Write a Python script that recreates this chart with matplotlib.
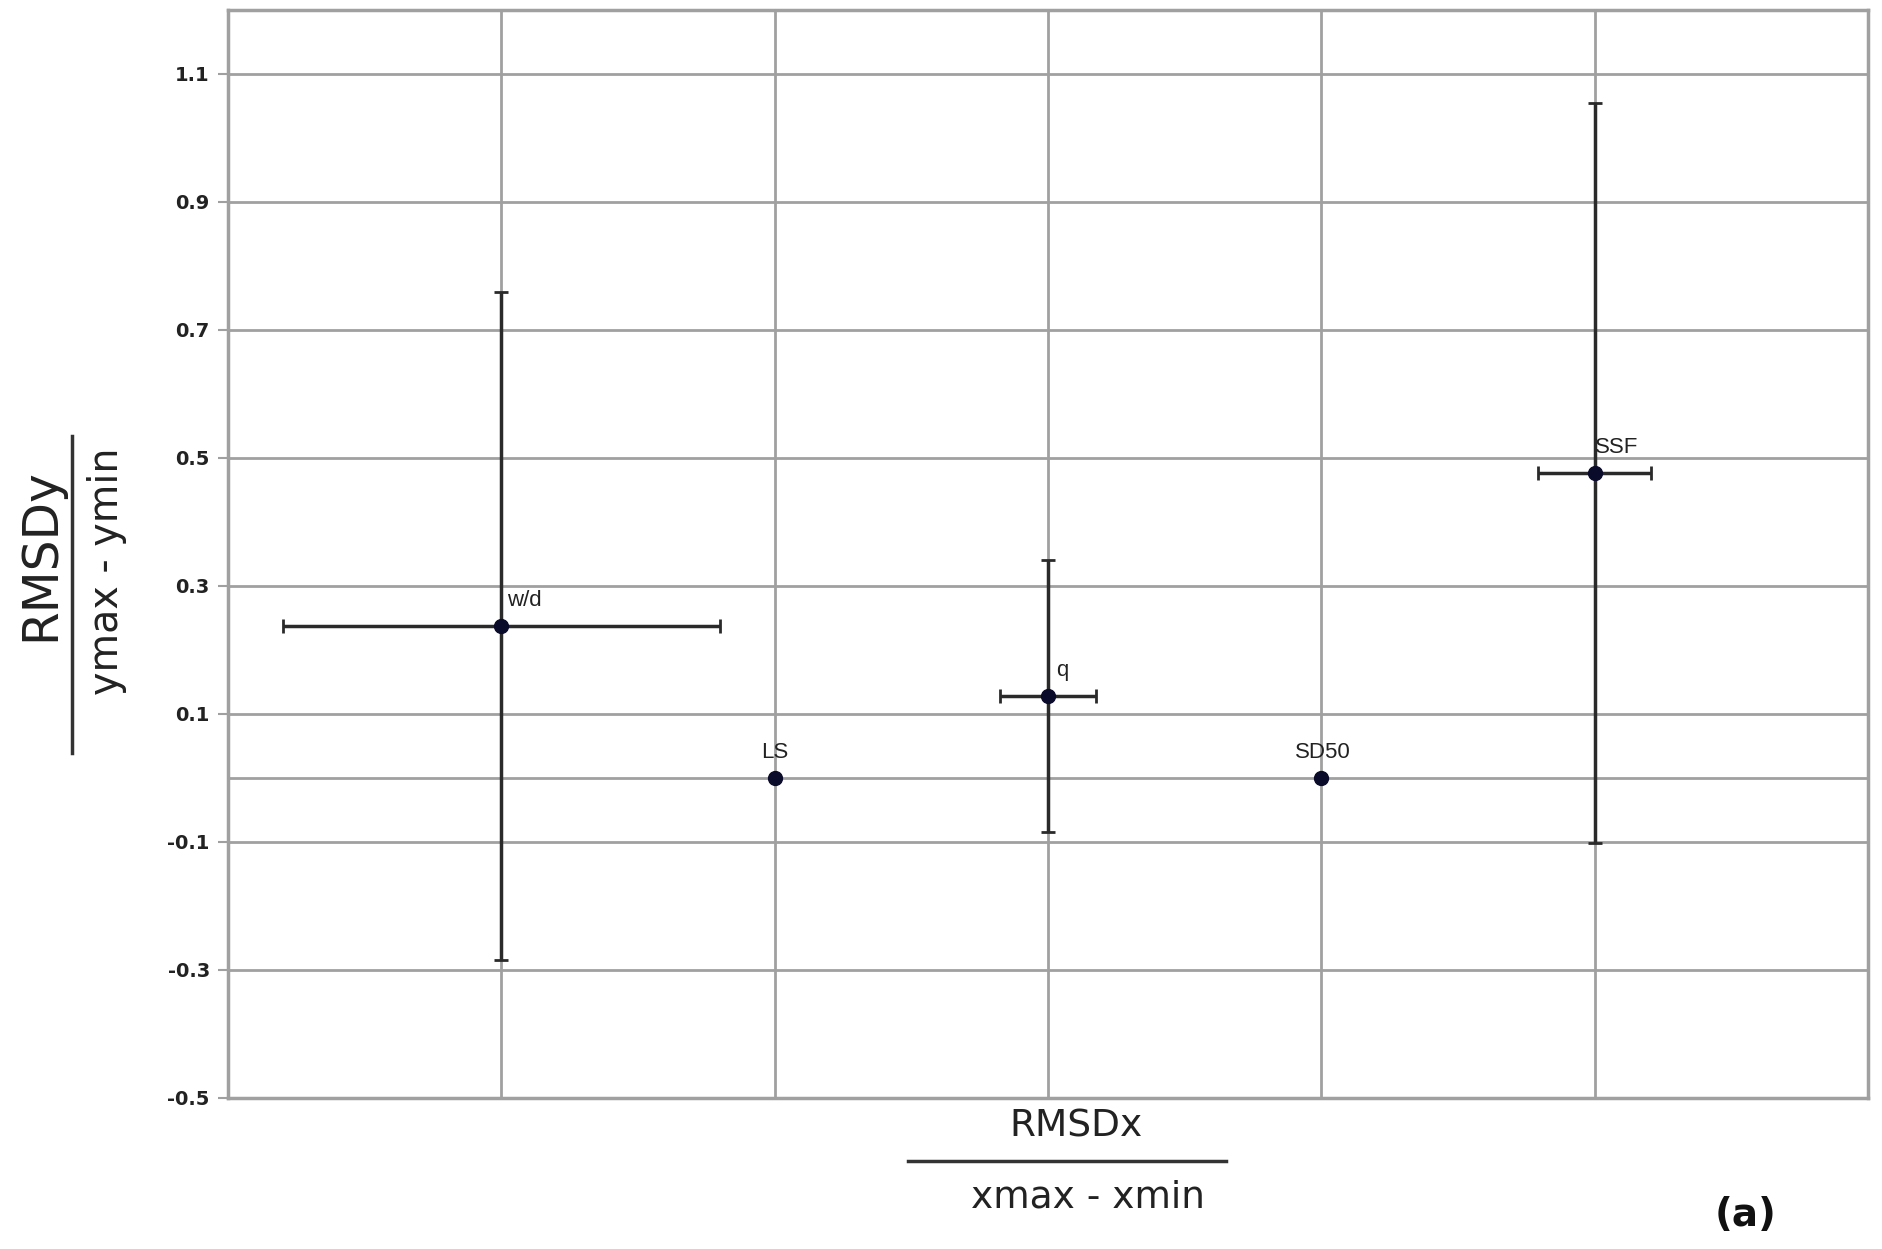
import matplotlib
matplotlib.use("Agg")
import matplotlib.pyplot as plt
from matplotlib.lines import Line2D

# data
labels = ["w/d", "LS", "q", "SD50", "SSF"]
x_pos = [1, 2, 3, 4, 5]
y_val = [0.237, 0.0, 0.128, 0.0, 0.477]
x_err = [0.80, 0.0, 0.175, 0.0, 0.207]
y_err = [0.522, 0.0, 0.212, 0.0, 0.578]
y_ticks = [-0.5, -0.3, -0.1, 0.1, 0.3, 0.5, 0.7, 0.9, 1.1]
# label offsets in pixels (dx, dy) and horizontal alignment
label_off = [(6, 15, "left"), (0, 15, "center"), (8, 15, "left"), (2, 15, "center"), (0, 15, "left")]

fig = plt.figure(figsize=(18.83, 12.49), dpi=100)
ax = fig.add_axes([0.121, 0.121, 0.871, 0.871])

grid_c = "#a0a0a0"
ax.set_xlim(0, 6)
ax.set_ylim(-0.5, 1.2)
ax.set_xticks(x_pos)
ax.set_xticklabels([])
ax.set_yticks(y_ticks)
ax.set_yticklabels([f"{v:.1f}" for v in y_ticks], fontsize=14, fontweight="bold", color="#222222")
ax.tick_params(axis="x", length=0)
ax.tick_params(axis="y", length=7, width=1.5, color=grid_c, direction="out", pad=6)
ax.grid(True, color=grid_c, linewidth=2)
ax.axhline(0, color=grid_c, linewidth=2, zorder=0.5)
ax.set_axisbelow(True)
for s in ax.spines.values():
    s.set_color(grid_c)
    s.set_linewidth(2.5)

ax.errorbar(x_pos, y_val, xerr=x_err, yerr=y_err, fmt="o", color="#0a0a2a",
            ecolor="#2a2a2a", elinewidth=2.5, capsize=5, capthick=2,
            markersize=10, zorder=3)

for lab, x, y, (dx, dy, ha) in zip(labels, x_pos, y_val, label_off):
    ax.annotate(lab, (x, y), xytext=(dx, dy), textcoords="offset pixels",
                ha=ha, va="bottom", fontsize=16, color="#222222",
                family=["Liberation Sans Narrow", "Liberation Sans", "DejaVu Sans"])

# fraction-style axis labels
fs = 27
fig.text(0.0215, 0.556, "RMSDy", rotation=90, ha="center", va="center", fontsize=35, color="#222222")
fig.add_artist(Line2D([0.038, 0.038], [0.397, 0.651], color="#333333", linewidth=2.5, transform=fig.transFigure))
fig.text(0.057, 0.543, "ymax - ymin", rotation=90, ha="center", va="center", fontsize=28.5, color="#222222")

fig.text(0.5715, 0.098, "RMSDx", ha="center", va="center", fontsize=fs, color="#222222")
fig.add_artist(Line2D([0.482, 0.651], [0.0705, 0.0705], color="#333333", linewidth=2.5, transform=fig.transFigure))
fig.text(0.578, 0.041, "xmax - xmin", ha="center", va="center", fontsize=fs, color="#222222")

fig.text(0.927, 0.027, "(a)", ha="center", va="center", fontsize=28, fontweight="bold", color="#111111")

fig.savefig("out.png", dpi=100)
